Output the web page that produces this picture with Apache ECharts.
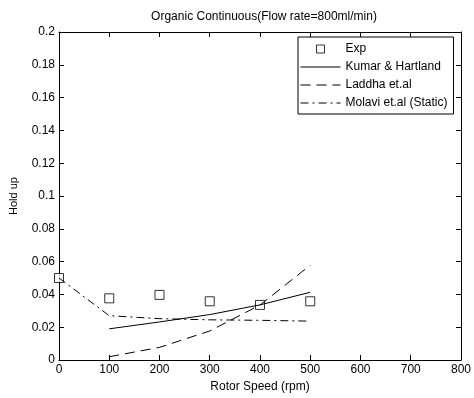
<!DOCTYPE html>
<html lang="en">
<head>
    <meta charset="UTF-8">
    <title>Organic Continuous</title>
    <style>
        html, body { margin: 0; padding: 0; background: #fff; }
    </style>
</head>
<body>
    <div id="main" style="width:474px;height:398px;"></div>
</body>
<script src="https://cdn.jsdelivr.net/npm/echarts@6/dist/echarts.min.js"></script>
<script>
    var main = echarts.init(document.getElementById('main'));

    // values
    var expX = [0, 100, 200, 300, 400, 500];
    var expY = [0.050, 0.0376, 0.0397, 0.0358, 0.0336, 0.0358];
    var modelX = [100, 200, 300, 400, 500];
    var kumar = [0.019, 0.0232, 0.0277, 0.0336, 0.0413];
    var laddha = [0.002, 0.0077, 0.0177, 0.0335, 0.0578];
    var molaviX = [0, 100, 200, 300, 400, 500];
    var molavi = [0.050, 0.027, 0.0252, 0.0245, 0.0242, 0.0237];
    var xTicks = [0, 800, 100];
    var yTicks = [0, 0.2, 0.02];

    function pairs(xs, ys) {
        return xs.map(function (x, i) { return [x, ys[i]]; });
    }

    var font = 'Liberation Sans, Arial, sans-serif';
    var lineBase = { color: '#000', width: 1 };
    // hide the little marker the legend puts in the middle of a line icon
    var noMarker = { color: 'rgba(0,0,0,0)', borderColor: 'rgba(0,0,0,0)', opacity: 0 };

    var option = {
        backgroundColor: '#fff',
        animation: false,
        textStyle: { fontFamily: font },
        title: {
            text: 'Organic Continuous(Flow rate=800ml/min)',
            left: 259,
            textAlign: 'center',
            top: 6,
            textStyle: { fontFamily: font, fontSize: 12, fontWeight: 'normal', color: '#000' }
        },
        grid: { left: 57, right: 8, top: 32, bottom: 38 },
        legend: {
            orient: 'vertical',
            left: 298,
            top: 37,
            width: 159,
            padding: [6, 6, 5, 2],
            itemWidth: 40,
            itemHeight: 8,
            itemGap: 6,
            borderColor: '#000',
            borderWidth: 1,
            backgroundColor: '#fff',
            lineStyle: { width: 1 },
            textStyle: { fontFamily: font, fontSize: 12, color: '#000' },
            data: [
                { name: 'Exp', icon: 'path://M0,0L10,0L10,10L0,10Z', itemStyle: { borderWidth: 1 } },
                { name: 'Kumar & Hartland', itemStyle: noMarker },
                { name: 'Laddha et.al', itemStyle: noMarker },
                { name: 'Molavi et.al (Static)', itemStyle: noMarker }
            ]
        },
        xAxis: [{
            type: 'value',
            min: xTicks[0], max: xTicks[1], interval: xTicks[2],
            name: 'Rotor Speed (rpm)',
            nameLocation: 'middle',
            nameGap: 20,
            nameTextStyle: { fontFamily: font, fontSize: 12, color: '#000' },
            axisLine: { onZero: false, lineStyle: { color: '#000' } },
            axisTick: { inside: true, length: 5, lineStyle: { color: '#000' } },
            axisLabel: { color: '#000', fontSize: 12, margin: 4 },
            splitLine: { show: false }
        }, {
            type: 'value', position: 'top',
            min: xTicks[0], max: xTicks[1], interval: xTicks[2],
            axisLine: { onZero: false, lineStyle: { color: '#000' } },
            axisTick: { inside: true, length: 5, lineStyle: { color: '#000' } },
            axisLabel: { show: false },
            splitLine: { show: false }
        }],
        yAxis: [{
            type: 'value',
            min: yTicks[0], max: yTicks[1], interval: yTicks[2],
            name: 'Hold up',
            nameLocation: 'middle',
            nameGap: 40,
            nameTextStyle: { fontFamily: font, fontSize: 11, color: '#000' },
            axisLine: { show: true, onZero: false, lineStyle: { color: '#000' } },
            axisTick: { show: true, inside: true, length: 5, lineStyle: { color: '#000' } },
            axisLabel: { color: '#000', fontSize: 12, margin: 4 },
            splitLine: { show: false }
        }, {
            type: 'value', position: 'right',
            min: yTicks[0], max: yTicks[1], interval: yTicks[2],
            axisLine: { show: true, onZero: false, lineStyle: { color: '#000' } },
            axisTick: { show: true, inside: true, length: 5, lineStyle: { color: '#000' } },
            axisLabel: { show: false },
            splitLine: { show: false }
        }],
        series: [{
            name: 'Exp',
            type: 'scatter',
            symbol: 'rect',
            symbolSize: 9,
            itemStyle: { color: '#fff', borderColor: '#000', borderWidth: 1 },
            data: pairs(expX, expY),
            z: 1
        }, {
            name: 'Kumar & Hartland',
            type: 'line',
            symbol: 'none',
            color: '#000',
            lineStyle: Object.assign({ type: 'solid' }, lineBase),
            data: pairs(modelX, kumar)
        }, {
            name: 'Laddha et.al',
            type: 'line',
            symbol: 'none',
            color: '#000',
            lineStyle: Object.assign({ type: [10, 6] }, lineBase),
            data: pairs(modelX, laddha)
        }, {
            name: 'Molavi et.al (Static)',
            type: 'line',
            symbol: 'none',
            color: '#000',
            lineStyle: Object.assign({ type: [8, 4, 2, 4] }, lineBase),
            data: pairs(molaviX, molavi)
        }]
    };
    main.setOption(option);
</script>
</html>
